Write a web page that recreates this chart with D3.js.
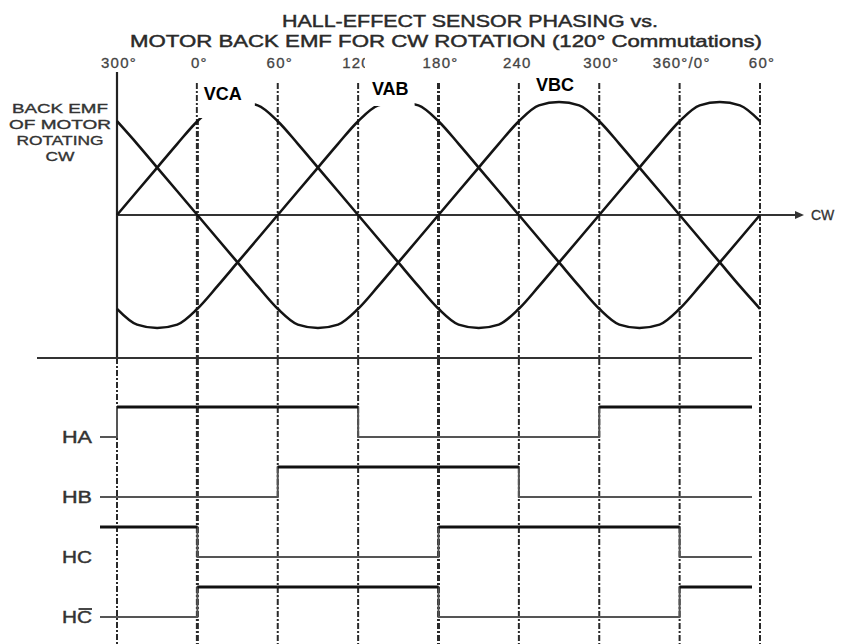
<!DOCTYPE html>
<html>
<head>
<meta charset="utf-8">
<script src="https://cdn.jsdelivr.net/npm/d3@7/dist/d3.min.js"></script>
<style>
  body { margin: 0; background: #fff; }
  svg { display: block; font-family: 'Liberation Sans', Arial, sans-serif; }
</style>
</head>
<body>
<div id="chart"></div>
<script>
// electrical angle (deg), 300° of the previous turn = -60, last 60° = 420
const degrees = [-60, -45, -30, -15, 0, 15, 30, 45, 60, 75, 90, 105, 120, 135, 150, 165, 180,
  195, 210, 225, 240, 255, 270, 285, 300, 315, 330, 345, 360, 375, 390, 405, 420];

// back EMF, normalised to peak
const vca = [0, 0.21, 0.42, 0.63, 0.83, 0.97, 1.0, 0.97, 0.83, 0.63, 0.42, 0.21, 0, -0.21, -0.42, -0.63, -0.83,
  -0.97, -1.0, -0.97, -0.83, -0.63, -0.42, -0.21, 0, 0.21, 0.42, 0.63, 0.83, 0.97, 1.0, 0.97, 0.83];
const vab = [-0.83, -0.97, -1.0, -0.97, -0.83, -0.63, -0.42, -0.21, 0, 0.21, 0.42, 0.63, 0.83, 0.97, 1.0, 0.97, 0.83,
  0.63, 0.42, 0.21, 0, -0.21, -0.42, -0.63, -0.83, -0.97, -1.0, -0.97, -0.83, -0.63, -0.42, -0.21, 0];
const vbc = [0.83, 0.63, 0.42, 0.21, 0, -0.21, -0.42, -0.63, -0.83, -0.97, -1.0, -0.97, -0.83, -0.63, -0.42, -0.21, 0,
  0.21, 0.42, 0.63, 0.83, 0.97, 1.0, 0.97, 0.83, 0.63, 0.42, 0.21, 0, -0.21, -0.42, -0.63, -0.83];

const tickDegrees = [-60, 0, 60, 120, 180, 240, 300, 360, 420];
const tickLabels = ['300°', '0°', '60°', '120°', '180°', '240°', '300°', '360°/0°', '60°'];

// hall sensor states: level before 300°, then one state per 60° sector
const hallNames = ['HA', 'HB', 'HC', 'HC'];
const hallBefore = [0, 0, 1, 0];
const hallStates = [
  [1, 1, 1, 0, 0, 0, 1, 1],
  [0, 0, 1, 1, 1, 0, 0, 0],
  [1, 0, 0, 0, 1, 1, 1, 0],
  [0, 1, 1, 1, 0, 0, 0, 1],
];

const emfLabels = ['VCA', 'VAB', 'VBC'];
const emfLabelDeg = [19, 144, 267];

const W = 841, H = 644;
const svg = d3.select('#chart').append('svg').attr('width', W).attr('height', H);

const x = d3.scaleLinear().domain([-60, 420]).range([117, 760]);
const y = d3.scaleLinear().domain([-1, 1]).range([328, 102]);
const hallY = d3.scalePoint().domain(d3.range(hallNames.length)).range([437, 617]);
const step = 30; // high level above low level
const sepY = 358;

// vertical phase lines
tickDegrees.forEach((d, i) => {
  const heavy = d === 0 || d === 180;
  svg.append('line')
    .attr('x1', x(d)).attr('x2', x(d))
    .attr('y1', i === 0 ? sepY : 83).attr('y2', H)
    .attr('stroke', '#2a2a2a')
    .attr('stroke-width', heavy ? 3 : 2)
    .attr('stroke-dasharray', '6,2,2,2');
});
// solid left axis of EMF plot
svg.append('line')
  .attr('x1', x(-60)).attr('x2', x(-60)).attr('y1', 72).attr('y2', sepY)
  .attr('stroke', '#222').attr('stroke-width', 2.2);

// separator
svg.append('line')
  .attr('x1', 37).attr('x2', 752).attr('y1', sepY).attr('y2', sepY)
  .attr('stroke', '#333').attr('stroke-width', 2);

// CW axis with arrow
svg.append('line')
  .attr('x1', x(-60)).attr('x2', 798).attr('y1', y(0)).attr('y2', y(0))
  .attr('stroke', '#333').attr('stroke-width', 1.8);
svg.append('path')
  .attr('d', `M795,${y(0) - 4}L804,${y(0)}L795,${y(0) + 4}Z`)
  .attr('fill', '#333');
svg.append('text')
  .attr('x', 811).attr('y', y(0) + 5)
  .attr('font-size', 14).attr('fill', '#333')
  .attr('stroke', '#333').attr('stroke-width', 0.3)
  .text('CW');

// back EMF waves
const wave = d3.line()
  .x((d, i) => x(degrees[i]))
  .y(d => y(d))
  .curve(d3.curveMonotoneX);
[vca, vab, vbc].forEach(s => {
  svg.append('path')
    .attr('d', wave(s))
    .attr('fill', 'none')
    .attr('stroke', '#141414')
    .attr('stroke-width', 2.6);
});

// tick labels on top
svg.selectAll('.tick-label')
  .data(tickDegrees)
  .enter()
  .append('text')
  .attr('class', 'tick-label')
  .attr('x', d => x(d) + 2)
  .attr('y', 68)
  .attr('text-anchor', 'middle')
  .attr('font-size', 15)
  .attr('letter-spacing', 1.2)
  .attr('fill', '#444')
  .attr('stroke', '#444')
  .attr('stroke-width', 0.3)
  .text((d, i) => tickLabels[i]);

// VCA / VAB / VBC labels on white boxes
const labelBase = [100, 95, 91];
const boxTop = [76, 55, 55];
const boxPadL = [6, 7, 5];
const boxPadR = [13, 6, 4];
const boxPadB = [18, 11, 9];
emfLabels.forEach((t, i) => {
  const g = svg.append('g');
  const rect = g.append('rect').attr('fill', '#fff');
  const txt = g.append('text')
    .attr('x', x(emfLabelDeg[i])).attr('y', labelBase[i])
    .attr('text-anchor', 'middle')
    .attr('font-size', 18).attr('font-weight', 'bold').attr('fill', '#000')
    .text(t);
  const bb = txt.node().getBBox();
  rect.attr('x', bb.x - boxPadL[i]).attr('y', boxTop[i])
    .attr('width', bb.width + boxPadL[i] + boxPadR[i])
    .attr('height', labelBase[i] + boxPadB[i] - boxTop[i]);
});

// hall sensor signals
const xStart = x(-60) - 17;
const xEnd = x(420) - 8;
hallNames.forEach((name, k) => {
  const low = hallY(k);
  const pts = [{ px: xStart, v: hallBefore[k] }];
  hallStates[k].forEach((v, j) => pts.push({ px: x(tickDegrees[j]), v }));
  pts.push({ px: xEnd, v: hallStates[k][hallStates[k].length - 1] });

  const stepLine = d3.line()
    .x(d => d.px)
    .y(d => low - d.v * step)
    .curve(d3.curveStepAfter);
  svg.append('path')
    .attr('d', stepLine(pts))
    .attr('fill', 'none')
    .attr('stroke', '#555')
    .attr('stroke-width', 2);

  // high level drawn heavier
  for (let i = 0; i < pts.length - 1; i++) {
    if (pts[i].v === 1) {
      svg.append('line')
        .attr('x1', pts[i].px).attr('x2', pts[i + 1].px)
        .attr('y1', low - step).attr('y2', low - step)
        .attr('stroke', '#111').attr('stroke-width', 3);
    }
  }

  const lbl = svg.append('text')
    .attr('x', 92).attr('y', low + 6)
    .attr('text-anchor', 'end')
    .attr('font-size', 16)
    .attr('fill', '#333')
    .attr('stroke', '#333')
    .attr('stroke-width', 0.4)
    .attr('textLength', 30)
    .attr('lengthAdjust', 'spacingAndGlyphs')
    .text(name);
  if (k === 3) {
    // complement bar over the C
    const bb = lbl.node().getBBox();
    svg.append('line')
      .attr('x1', bb.x + bb.width * 0.55).attr('x2', bb.x + bb.width)
      .attr('y1', low - 8).attr('y2', low - 8)
      .attr('stroke', '#333').attr('stroke-width', 1.8);
  }
});

// left caption
const caption = ['BACK EMF', 'OF MOTOR', 'ROTATING', 'CW'];
const captionLen = [96, 102, 87, 29];
caption.forEach((t, i) => {
  svg.append('text')
    .attr('x', 60).attr('y', 113 + i * 16)
    .attr('text-anchor', 'middle')
    .attr('font-size', 13)
    .attr('fill', '#333')
    .attr('stroke', '#333')
    .attr('stroke-width', 0.35)
    .attr('textLength', captionLen[i])
    .attr('lengthAdjust', 'spacingAndGlyphs')
    .text(t);
});

// title
svg.append('text')
  .attr('x', 282).attr('y', 27)
  .attr('font-size', 17).attr('fill', '#2a2a2a')
  .attr('stroke', '#2a2a2a').attr('stroke-width', 0.45)
  .attr('textLength', 376).attr('lengthAdjust', 'spacingAndGlyphs')
  .text('HALL-EFFECT SENSOR PHASING vs.');
svg.append('text')
  .attr('x', 130).attr('y', 47)
  .attr('font-size', 17).attr('fill', '#2a2a2a')
  .attr('stroke', '#2a2a2a').attr('stroke-width', 0.45)
  .attr('textLength', 632).attr('lengthAdjust', 'spacingAndGlyphs')
  .text('MOTOR BACK EMF FOR CW ROTATION (120° Commutations)');
</script>
</body>
</html>
